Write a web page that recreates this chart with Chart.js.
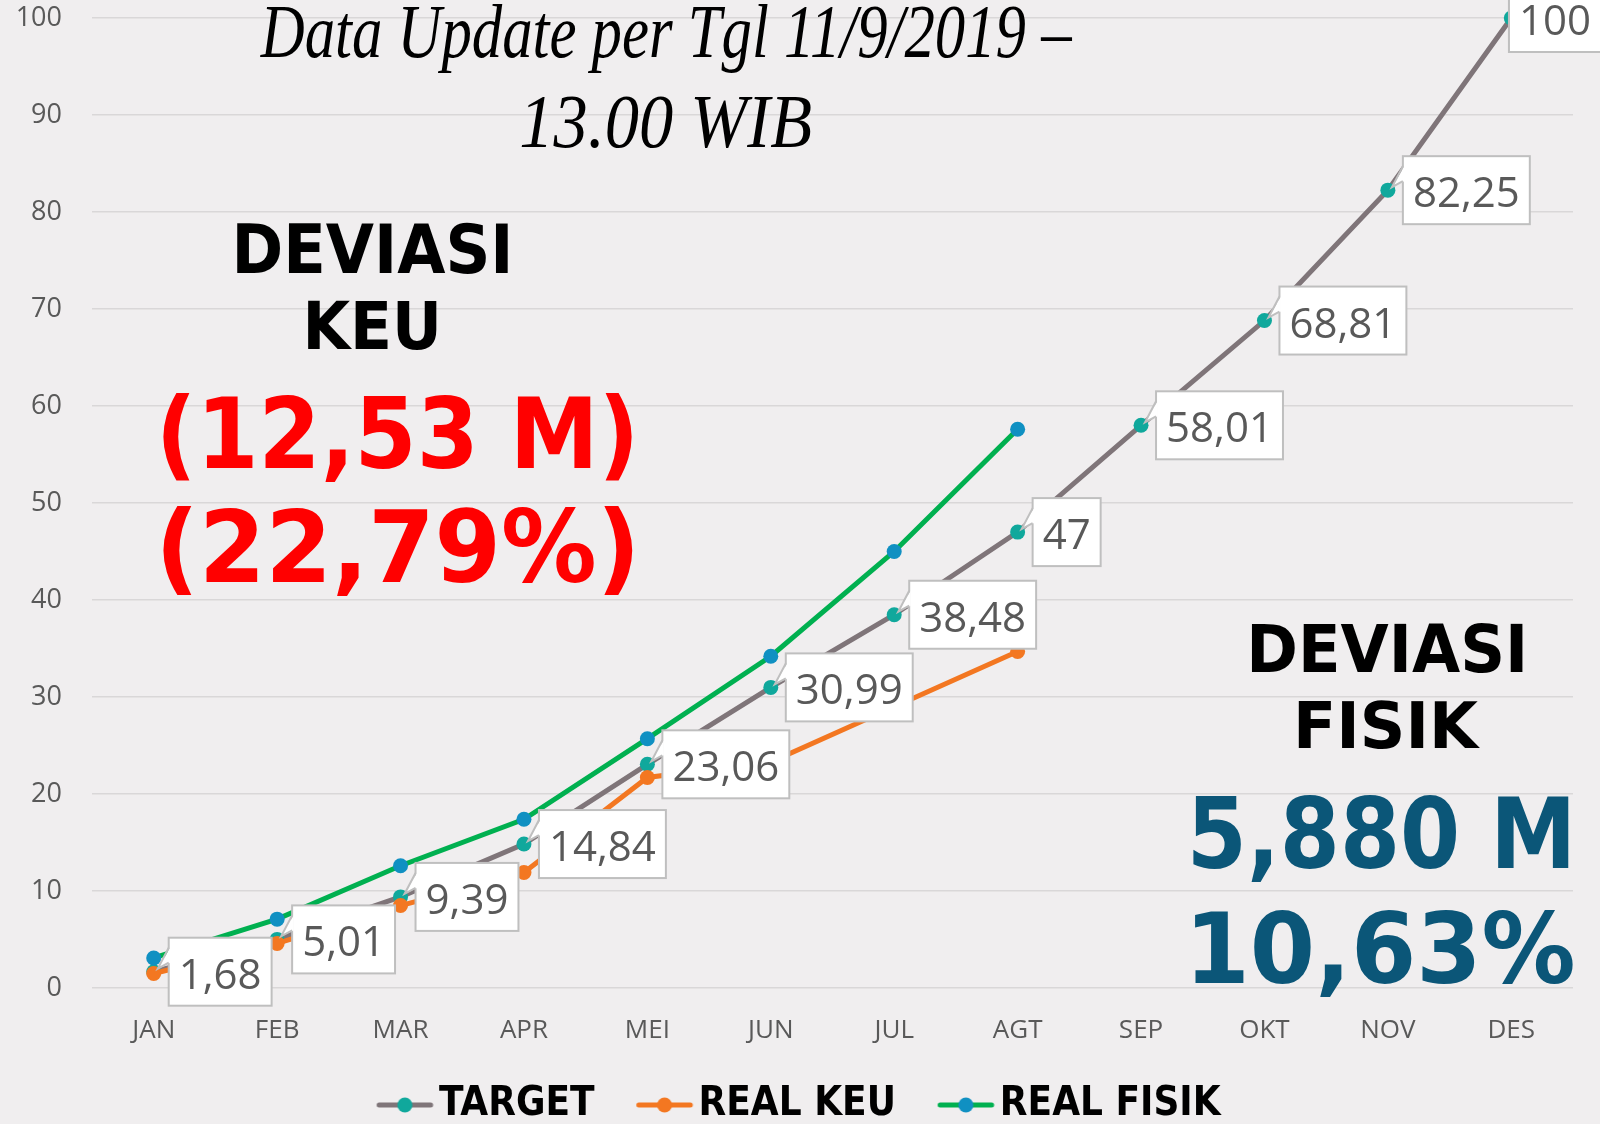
<!DOCTYPE html>
<html><head><meta charset="utf-8">
<script src="https://cdn.jsdelivr.net/npm/chart.js@4.4.1/dist/chart.umd.min.js"></script>
<style>html,body{margin:0;padding:0;background:#f0eeef;}canvas{display:block}</style>
</head><body>
<canvas id="c" width="1600" height="1124"></canvas>
<script>
// ---------- DATA ----------
const months = ['JAN','FEB','MAR','APR','MEI','JUN','JUL','AGT','SEP','OKT','NOV','DES'];
const seriesNames = ['TARGET','REAL KEU','REAL FISIK'];
const target    = [1.68, 5.01, 9.39, 14.84, 23.06, 30.99, 38.48, 47, 58.01, 68.81, 82.25, 100];
const realKeu   = [1.5, 4.6, 8.5, 11.9, 21.7, 23.3, 29.0, 34.7, null, null, null, null];
const realFisik = [3.1, 7.1, 12.6, 17.4, 25.7, 34.2, 45.0, 57.6, null, null, null, null];
const yTickValues = [0,10,20,30,40,50,60,70,80,90,100];
const titleLines = ['Data Update per Tgl 11/9/2019 \u2013', '13.00 WIB'];
const keuLines = ['DEVIASI', 'KEU', '(12,53 M)', '(22,79%)'];
const fisikLines = ['DEVIASI', 'FISIK', '5,880 M', '10,63%'];

// ---------- STYLE ----------
const BG = '#f0eeef';
const GRAY_TXT = '#595959';
const C = {
  targetLine: '#7f7579', targetPt: '#10a89c',
  keuLine: '#f37721', keuPt: '#f37721',
  fisikLine: '#00b050', fisikPt: '#1090c2'
};
const SANS = '"Open Sans", "Noto Sans", sans-serif';
const BOLD = '"DejaVu Sans", Verdana, sans-serif';
const NARROW = '"Liberation Sans Narrow", "DejaVu Sans Condensed", sans-serif';
const SCRIPT = '"Liberation Serif", "DejaVu Serif", serif';

function fmt(v){ return String(v).replace('.', ','); }

// legend marker: line + dot, offset inside the canvas so that it sits just left of the text
function makeMarker(line, pt){
  const cv = document.createElement('canvas');
  cv.width = 98; cv.height = 20;
  const g = cv.getContext('2d');
  g.strokeStyle = line; g.lineWidth = 5; g.lineCap = 'round';
  g.beginPath(); g.moveTo(42.5, 10); g.lineTo(94, 10); g.stroke();
  g.fillStyle = pt; g.beginPath(); g.arc(68.25, 10, 7.5, 0, Math.PI*2); g.fill();
  return cv;
}

function drawFit(ctx, t){
  ctx.save();
  ctx.textAlign = 'left'; ctx.textBaseline = 'alphabetic';
  const font = (s) => `${t.style||'normal'} ${t.weight||'bold'} ${s}px ${t.family}`;
  ctx.font = font(100);
  const capR = ctx.measureText(t.capRef || 'H').actualBoundingBoxAscent / 100;
  const size = t.cap / capR;
  ctx.font = font(size);
  const m = ctx.measureText(t.text);
  const inkW = m.actualBoundingBoxLeft + m.actualBoundingBoxRight;
  const sx = (t.right - t.left) / inkW;
  if (t.clipBottom) { ctx.beginPath(); ctx.rect(0, 0, 1600, t.clipBottom); ctx.clip(); }
  ctx.translate(t.left, t.baseline);
  ctx.scale(sx, 1);
  ctx.fillStyle = t.color;
  ctx.fillText(t.text, m.actualBoundingBoxLeft, 0);
  ctx.restore();
}

const overlayTexts = [
  {text: titleLines[0], left: 260, right: 1072, baseline: 57, cap: 50, capRef: 'D', family: SCRIPT, style: 'italic', weight: 'normal', color: '#000'},
  {text: titleLines[1], left: 521, right: 811, baseline: 147, cap: 49, capRef: 'W', family: SCRIPT, style: 'italic', weight: 'normal', color: '#000'},
  {text: keuLines[0], left: 237, right: 508, baseline: 273, cap: 49, family: BOLD, color: '#000'},
  {text: keuLines[1], left: 308, right: 437, baseline: 349, cap: 48, family: BOLD, color: '#000'},
  {text: keuLines[2], left: 163, right: 632, baseline: 468, cap: 72, family: BOLD, color: '#ff0000'},
  {text: keuLines[3], left: 163, right: 633, baseline: 582, cap: 73, family: BOLD, color: '#ff0000', clipBottom: 599},
  {text: fisikLines[0], left: 1252, right: 1523, baseline: 672, cap: 48, family: BOLD, color: '#000'},
  {text: fisikLines[1], left: 1298, right: 1480, baseline: 748, cap: 47, family: BOLD, color: '#000'},
  {text: fisikLines[2], left: 1193, right: 1569, baseline: 868, cap: 72, family: BOLD, color: '#0b5678'},
  {text: fisikLines[3], left: 1195, right: 1573, baseline: 983, cap: 72, family: BOLD, color: '#0b5678'}
];

const bgPlugin = {
  id: 'bg',
  beforeDraw(chart){
    const ctx = chart.ctx; ctx.save(); ctx.fillStyle = BG;
    ctx.fillRect(0, 0, chart.width, chart.height); ctx.restore();
  }
};

const labelPlugin = {
  id: 'tlabels',
  afterDatasetsDraw(chart){
    const ctx = chart.ctx;
    const meta = chart.getDatasetMeta(0);
    ctx.save();
    ctx.font = `400 42px ${SANS}`;
    ctx.textAlign = 'left'; ctx.textBaseline = 'alphabetic';
    meta.data.forEach((pt, i) => {
      const v = chart.data.datasets[0].data[i];
      if (v == null) return;
      const txt = fmt(v);
      const px = pt.x, py = pt.y;
      const tw = ctx.measureText(txt).width;
      const bw = tw + 20, bh = 68;
      let bx = px + 15;
      const shifted = bx + bw > chart.width;
      if (shifted) bx = chart.width - bw + 1;
      const by = py - 34;
      ctx.fillStyle = '#ffffff';
      ctx.strokeStyle = '#bfbfbf';
      ctx.lineWidth = 2;
      ctx.fillRect(bx, by, bw, bh);
      ctx.strokeRect(bx, by, bw, bh);
      if (!shifted) {
        // callout pointer
        ctx.beginPath();
        ctx.moveTo(bx + 1.5, py - 24);
        ctx.lineTo(px + 4, py - 3);
        ctx.lineTo(bx + 1.5, py - 9);
        ctx.closePath();
        ctx.fill();
        ctx.beginPath();
        ctx.moveTo(bx, py - 24);
        ctx.lineTo(px + 4, py - 3);
        ctx.lineTo(bx, py - 9);
        ctx.stroke();
      }
      ctx.fillStyle = GRAY_TXT;
      ctx.fillText(txt, bx + 10, py + 17);
    });
    ctx.restore();
  }
};

const overlayPlugin = {
  id: 'overlay',
  afterDraw(chart){
    overlayTexts.forEach(t => drawFit(chart.ctx, t));
  }
};

function build(){
  const markers = [
    makeMarker(C.targetLine, C.targetPt),
    makeMarker(C.keuLine, C.keuPt),
    makeMarker(C.fisikLine, C.fisikPt)
  ];
  const common = {borderWidth: 5, pointRadius: 7.5, pointHoverRadius: 7.5, pointBorderWidth: 0, tension: 0, clip: false, spanGaps: false};
  new Chart(document.getElementById('c'), {
    type: 'line',
    data: {
      labels: months,
      datasets: [
        Object.assign({label: seriesNames[0], data: target, borderColor: C.targetLine, pointBackgroundColor: C.targetPt, pointBorderColor: C.targetPt, order: 3}, common),
        Object.assign({label: seriesNames[1], data: realKeu, borderColor: C.keuLine, pointBackgroundColor: C.keuPt, pointBorderColor: C.keuPt, order: 2}, common),
        Object.assign({label: seriesNames[2], data: realFisik, borderColor: C.fisikLine, pointBackgroundColor: C.fisikPt, pointBorderColor: C.fisikPt, order: 1}, common)
      ]
    },
    options: {
      responsive: false,
      animation: false,
      events: [],
      layout: {padding: {top: 18, right: 27, bottom: -11, left: 0}},
      scales: {
        x: {
          offset: true,
          grid: {display: false, drawTicks: false},
          border: {display: false},
          ticks: {color: GRAY_TXT, font: {family: SANS, size: 26}, padding: 27, maxRotation: 0},
          afterFit(s){ s.height = 79.5; }
        },
        y: {
          min: 0, max: 100,
          afterBuildTicks(s){ s.ticks = yTickValues.map(v => ({value: v})); },
          grid: {color: '#d9d7d8', lineWidth: 1.5, drawTicks: false},
          border: {display: false},
          ticks: {color: GRAY_TXT, font: {family: SANS, size: 27}, padding: 30},
          afterFit(s){ s.width = 92; s.paddingTop = 0; s.paddingBottom = 0; }
        }
      },
      plugins: {
        tooltip: {enabled: false},
        legend: {
          position: 'bottom',
          labels: {
            usePointStyle: true,
            pointStyleWidth: 66.5,
            padding: 17.5,
            color: '#000',
            font: {family: NARROW, size: 40, weight: 'bold'},
            generateLabels(chart){
              return chart.data.datasets.map((ds, i) => ({
                text: ds.label, fillStyle: ds.borderColor, strokeStyle: ds.borderColor,
                lineWidth: 0, pointStyle: markers[i], datasetIndex: i, hidden: false, fontColor: '#000'
              }));
            }
          }
        }
      }
    },
    plugins: [bgPlugin, labelPlugin, overlayPlugin]
  });
}

const fontLoads = [
  '400 42px "Open Sans"', 'bold 60px "DejaVu Sans"', 'bold 44px "Liberation Sans Narrow"', 'italic 50px "Liberation Serif"'
].map(f => document.fonts.load(f).catch(() => null));
Promise.all(fontLoads).then(build, build);
</script>
</body></html>
